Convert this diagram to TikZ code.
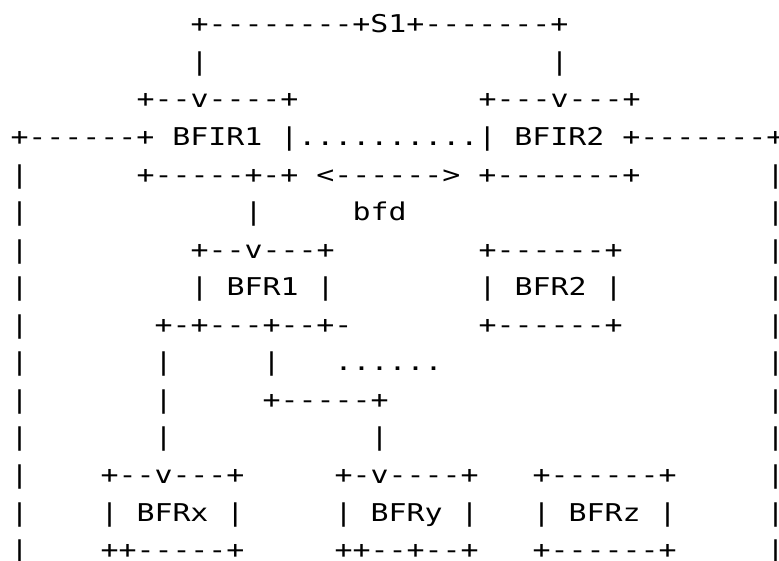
\documentclass[tikz,border=0pt]{standalone}
\usepackage{fontspec}
% monospaced face, widened so one character cell is 18pt
\setmonofont[FakeStretch=1.2204]{DejaVu Sans Mono}
% one run of characters: name, column, row, text
\newcommand\asc[4]{\node[ascii] (#1) at ({10.5+18*(#2)},{32.85+37.55*(#3)}) {#4};}
\begin{document}
\begin{tikzpicture}[x=1pt,y=-1pt,
  ascii/.style={anchor=base west, inner sep=0pt, outer sep=0pt,
    font=\ttfamily\fontsize{24.5pt}{24.5pt}\selectfont}]
\useasboundingbox (0,0) rectangle (779,561);
% S1 feeding both ingress routers
\asc{sone}{10}{0}{+--------+S1+-------+}
\asc{sonel}{10}{1}{|}
\asc{soner}{30}{1}{|}
\asc{bfirAtop}{7}{2}{+--v----+}
\asc{bfirBtop}{26}{2}{+---v---+}
\asc{bfirrow}{0}{3}{+------+ BFIR1 |..........| BFIR2 +-------+}
% left and right outer rails
\foreach \r in {4,...,14}{
  \asc{railL\r}{0}{\r}{|}
  \asc{railR\r}{42}{\r}{|}
}
\asc{bfirbot}{7}{4}{+-----+-+ <------> +-------+}
\asc{downA}{13}{5}{|}
\asc{bfd}{19}{5}{bfd}
\asc{bfrAtop}{10}{6}{+--v---+}
\asc{bfrBtop}{26}{6}{+------+}
\asc{bfrA}{10}{7}{| BFR1 |}
\asc{bfrB}{26}{7}{| BFR2 |}
\asc{bfrAbot}{8}{8}{+-+---+--+-}
\asc{bfrBbot}{26}{8}{+------+}
\asc{dropX1}{8}{9}{|}
\asc{dropY1}{14}{9}{|}
\asc{dots}{18}{9}{......}
\asc{dropX2}{8}{10}{|}
\asc{jogY}{14}{10}{+-----+}
\asc{dropX3}{8}{11}{|}
\asc{dropY2}{20}{11}{|}
% bottom row of routers
\asc{bfrXtop}{5}{12}{+--v---+}
\asc{bfrYtop}{18}{12}{+-v----+}
\asc{bfrZtop}{29}{12}{+------+}
\asc{bfrX}{5}{13}{| BFRx |}
\asc{bfrY}{18}{13}{| BFRy |}
\asc{bfrZ}{29}{13}{| BFRz |}
\asc{bfrXbot}{5}{14}{++-----+}
\asc{bfrYbot}{18}{14}{++--+--+}
\asc{bfrZbot}{29}{14}{+------+}
\end{tikzpicture}
\end{document}
